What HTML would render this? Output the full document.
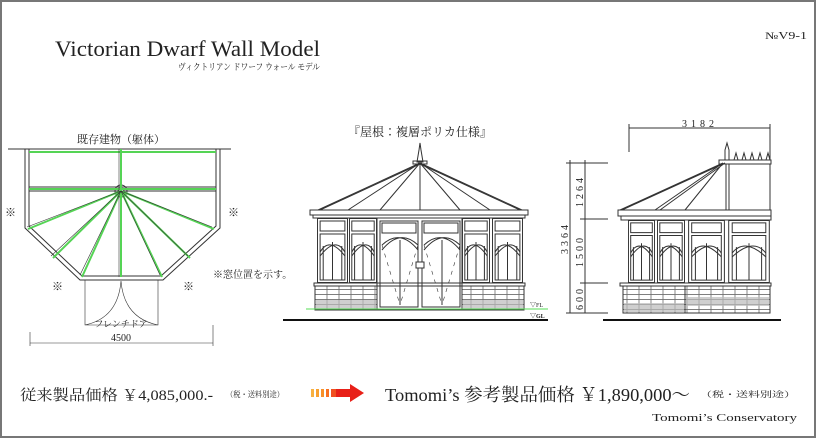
<!DOCTYPE html>
<html><head><meta charset="utf-8"><style>
html,body{margin:0;padding:0;background:#fff}
svg{display:block}
text{font-family:"Liberation Serif","Noto Serif CJK SC",serif;fill:#222}
.j{font-family:"Liberation Serif","Noto Serif CJK JP",serif}
</style></head><body>
<svg width="816" height="438" viewBox="0 0 816 438" xmlns="http://www.w3.org/2000/svg">
<defs>
<symbol id="win" viewBox="0 0 30 65" preserveAspectRatio="none">
<g fill="none" stroke="#333" stroke-width="1" vector-effect="non-scaling-stroke">
<rect x="0.5" y="0.5" width="29" height="64" vector-effect="non-scaling-stroke"/>
<rect x="3" y="3" width="24" height="10" vector-effect="non-scaling-stroke"/>
<rect x="3" y="16" width="24" height="46" vector-effect="non-scaling-stroke"/>
<path d="M3,34 Q12,18 27,38 M27,34 Q18,18 3,38 M15,24 V62 M6,28 V62 M24,28 V62" vector-effect="non-scaling-stroke"/>
</g>
</symbol>
<pattern id="brick" width="12" height="5" patternUnits="userSpaceOnUse">
<rect width="12" height="5" fill="#fff"/>
<path d="M0,4.5 H12 M3,0 V4.5" stroke="#555" stroke-width="0.7"/>
</pattern>
</defs>
<rect x="1" y="1" width="814" height="436" fill="#fff" stroke="#777" stroke-width="2"/>

<text x="55" y="56" font-size="22" textLength="265" lengthAdjust="spacingAndGlyphs">Victorian Dwarf Wall Model</text>
<text x="178" y="70" font-size="9" class="j" textLength="142" lengthAdjust="spacingAndGlyphs">ヴィクトリアン ドワーフ ウォール モデル</text>
<text x="765" y="39" font-size="10" textLength="42" lengthAdjust="spacingAndGlyphs">№V9-1</text>

<!-- plan -->
<text x="121" y="143" font-size="11" text-anchor="middle" class="j">既存建物（躯体）</text>
<g fill="none" stroke="#333" stroke-width="1">
<line x1="8" y1="149" x2="231" y2="149"/>
<path d="M25,149 V228 L80,280 H163 L220,228 V149"/>
<path d="M29,149 V226 L82,276 H161 L216,226 V149"/>
<line x1="29" y1="191" x2="216" y2="191"/>
<line x1="29" y1="187" x2="216" y2="187"/>
<circle cx="121" cy="191" r="6"/><circle cx="121" cy="191" r="3"/>
</g>
<g stroke="#55d455" stroke-width="2" fill="none">
<line x1="29" y1="152" x2="216" y2="152"/>
<line x1="29" y1="189" x2="216" y2="189"/>
<line x1="121" y1="149" x2="121" y2="277"/>
<path d="M121,191 L28,229 M121,191 L53,258 M121,191 L82,277 M121,191 L162,277 M121,191 L190,258 M121,191 L214,229"/>
</g>
<g stroke="#333" stroke-width="0.6" fill="none">
<path d="M121,191 L27,227 M121,191 L51,256 M121,191 L80,275 M121,191 L160,275 M121,191 L188,256 M121,191 L212,227"/>
<line x1="119" y1="149" x2="119" y2="277"/>
<path d="M85,280 V325 H158 V280 M85,325 Q118,318 121,281 M158,325 Q124,318 121,281"/>
<line x1="30" y1="332" x2="30" y2="346"/><line x1="213" y1="325" x2="213" y2="346"/>
<line x1="30" y1="343" x2="213" y2="343"/>
</g>
<text x="5" y="216" font-size="11">※</text><text x="228" y="216" font-size="11">※</text>
<text x="52" y="290" font-size="11">※</text><text x="183" y="290" font-size="11">※</text>
<text x="213" y="278" font-size="10" class="j">※窓位置を示す。</text>
<text x="121" y="327" font-size="9" text-anchor="middle" class="j">フレンチドア</text>
<text x="121" y="341" font-size="10" text-anchor="middle">4500</text>

<!-- front elevation -->
<text x="420" y="136" font-size="12" text-anchor="middle" class="j">『屋根：複層ポリカ仕様』</text>
<g stroke="#333" stroke-width="1" fill="none">
<path d="M417,162 L423,162 L421,150 L420,143 L419,150 Z"/>
<rect x="413" y="161" width="14" height="3"/>
<path d="M420,163 L318,210 M420,163 L348,210 M420,163 L380,210 M420,163 V210 M420,163 L460,210 M420,163 L490,210 M420,163 L522,210"/>
<path d="M422,163 L320,210 M418,163 L520,210"/>
<rect x="310" y="210" width="218" height="5"/>
<rect x="313" y="215" width="212" height="3"/>
<rect x="314" y="283" width="211" height="3"/>
</g>
<use href="#win" x="317" y="218" width="31" height="65"/>
<use href="#win" x="349" y="218" width="28" height="65"/>
<use href="#win" x="462" y="218" width="28" height="65"/>
<use href="#win" x="492" y="218" width="31" height="65"/>
<g stroke="#333" stroke-width="1" fill="none">
<rect x="377" y="218" width="85" height="92"/>
<rect x="380" y="221" width="38" height="86"/><rect x="422" y="221" width="38" height="86"/>
<rect x="382" y="223" width="34" height="10"/><rect x="424" y="223" width="34" height="10"/>
<path d="M382,250 Q400,228 418,245 M418,250 Q400,228 382,245 M400,240 V305 M424,250 Q442,228 460,245 M460,250 Q442,228 424,245 M442,240 V305"/>
<path d="M382,245 L400,305 M418,245 L400,305 M424,245 L442,305 M460,245 L442,305" stroke-dasharray="4,5" stroke-width="0.6"/>
<rect x="416" y="262" width="8" height="6" fill="#fff"/>
</g>
<rect x="315" y="286" width="62" height="24" fill="url(#brick)" stroke="#333"/>
<rect x="462" y="286" width="62" height="24" fill="url(#brick)" stroke="#333"/>
<rect x="316" y="300" width="60" height="9" fill="#bbb" opacity="0.7"/>
<rect x="463" y="300" width="60" height="9" fill="#bbb" opacity="0.7"/>
<line x1="306" y1="309" x2="548" y2="309" stroke="#5d5" stroke-width="1"/>
<line x1="283" y1="320" x2="548" y2="320" stroke="#111" stroke-width="2"/>
<text x="530" y="307" font-size="6">▽FL</text>
<text x="530" y="318" font-size="6" font-weight="bold">▽GL</text>

<!-- side elevation -->
<g stroke="#333" stroke-width="1" fill="none">
<line x1="629" y1="128" x2="770" y2="128"/><line x1="629" y1="124" x2="629" y2="152"/><line x1="770" y1="124" x2="770" y2="160"/>
<line x1="570" y1="160" x2="570" y2="313"/><line x1="585" y1="160" x2="585" y2="313"/>
<path d="M566,163 H608 M580,219 H608 M580,283 H608 M566,313 H608"/>
<path d="M723,163 L620,210 M723,163 L655,210 M723,163 L685,210 M725,163 L622,210 M725,163 L660,210"/>
<rect x="719" y="160" width="52" height="4"/>
<path d="M725,160 V150 L727,143 L729,150 V160"/>
<path d="M734,160 L736,153 L738,160 M742,160 L744,153 L746,160 M750,160 L752,153 L754,160 M758,160 L760,153 L762,160 M766,160 L768,153 L770,160"/>
<rect x="726" y="164" width="44" height="46"/>
<line x1="729" y1="164" x2="729" y2="210"/>
<rect x="618" y="210" width="153" height="6"/>
<rect x="621" y="216" width="150" height="4"/>
<rect x="620" y="283" width="151" height="3"/>
</g>
<use href="#win" x="628" y="220" width="27" height="63"/>
<use href="#win" x="657" y="220" width="28" height="63"/>
<use href="#win" x="688" y="220" width="37" height="63"/>
<use href="#win" x="728" y="220" width="42" height="63"/>
<rect x="623" y="286" width="62" height="27" fill="url(#brick)" stroke="#333"/>
<rect x="685" y="286" width="85" height="27" fill="url(#brick)" stroke="#333"/>
<rect x="624" y="303" width="60" height="9" fill="#bbb" opacity="0.7"/>
<rect x="686" y="297" width="83" height="9" fill="#bbb" opacity="0.7"/>
<line x1="603" y1="320" x2="781" y2="320" stroke="#111" stroke-width="2"/>
<text x="700" y="127" font-size="10" text-anchor="middle" letter-spacing="4">3182</text>
<g font-size="10" letter-spacing="3">
<text transform="translate(568,238) rotate(-90)" text-anchor="middle">3364</text>
<text transform="translate(583,191) rotate(-90)" text-anchor="middle">1264</text>
<text transform="translate(583,251) rotate(-90)" text-anchor="middle">1500</text>
<text transform="translate(583,298) rotate(-90)" text-anchor="middle">600</text>
</g>

<!-- bottom prices -->
<text x="20" y="400" font-size="15" class="j" textLength="193" lengthAdjust="spacingAndGlyphs">従来製品価格 ￥4,085,000.-</text>
<text x="226" y="397" font-size="8" class="j" textLength="58" lengthAdjust="spacingAndGlyphs">（税・送料別途）</text>
<rect x="311" y="389" width="3" height="8" fill="#f8b040"/>
<rect x="316" y="389" width="3" height="8" fill="#f8a030"/>
<rect x="321" y="389" width="3" height="8" fill="#f89028"/>
<rect x="326" y="389" width="3" height="8" fill="#f87020"/>
<rect x="331" y="389" width="5" height="8" fill="#f05020"/>
<path d="M336,389 H350 V384 L364,393 L350,402 V397 H336 Z" fill="#e82018"/>
<text x="385" y="401" font-size="18" class="j" textLength="305" lengthAdjust="spacingAndGlyphs">Tomomi’s 参考製品価格 ￥1,890,000～</text>
<text x="700" y="397" font-size="8" class="j" textLength="96" lengthAdjust="spacingAndGlyphs">（税・送料別途）</text>
<text x="652" y="421" font-size="11" textLength="145" lengthAdjust="spacingAndGlyphs">Tomomi’s Conservatory</text>
</svg>
</body></html>
